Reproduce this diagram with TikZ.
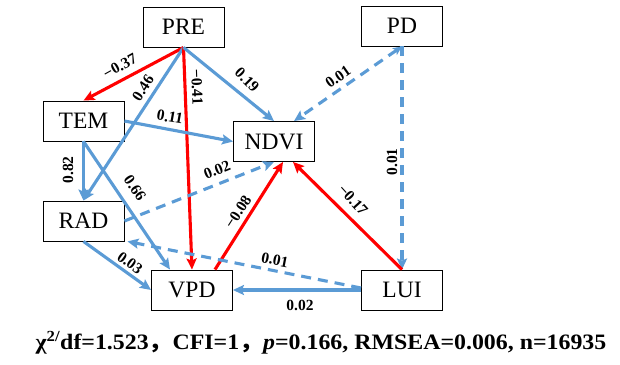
\documentclass[tikz,border=0pt]{standalone}
\usepackage{fontspec}
\setmainfont{Liberation Serif}
\newfontfamily\cjk{Noto Sans CJK SC}
\usetikzlibrary{arrows.meta,calc}
\definecolor{eblue}{RGB}{91,155,213}
\definecolor{ered}{RGB}{255,0,0}
\tikzset{
  varbox/.style={draw=black,line width=0.9pt,minimum width=81pt,minimum height=40pt,inner sep=0pt,font=\fontsize{23.5}{23.5}\selectfont},
  pline/.style={eblue,line width=3.1pt,-{Stealth[length=11pt,width=10pt,inset=2pt]}},
  nline/.style={ered,line width=3.1pt,-{Stealth[length=11pt,width=10pt,inset=2pt]}},
  pdash/.style={pline,dash pattern=on 10pt off 7pt},
  coef/.style={font=\fontsize{15.5}{15.5}\selectfont\bfseries,inner sep=0pt}
}
\begin{document}
\begin{tikzpicture}[x=1pt,y=-1pt]
\useasboundingbox (0,0) rectangle (620,364);
\node[varbox] (PRE) at (183.5,27) {PRE};
\node[varbox] (PD) at (402,26) {PD};
\node[varbox] (TEM) at (83.5,121) {TEM};
\node[varbox] (NDVI) at (274,141.5) {NDVI};
\node[varbox] (RAD) at (83.5,221) {RAD};
\node[varbox] (VPD) at (192,290) {VPD};
\node[varbox] (LUI) at (402,290) {LUI};
% connectors
\draw[nline] (PRE.south) -- (TEM.north);
\draw[pline] (PRE.south) -- (RAD.north);
\draw[pline] (TEM.south) -- (RAD.north);
\draw[pline] (TEM.south) -- ($(VPD.north)+(-22,0)$);
\draw[nline] (PRE.south) -- (VPD.north);
\draw[pline] (PRE.south) -- (NDVI.north);
\draw[pline] (TEM.east) -- (NDVI.west);
\draw[pdash,{Stealth[length=9pt,width=8pt,inset=2pt]}-{Stealth[length=11pt,width=10pt,inset=2pt]}] (PD.south) -- ($(NDVI.north)+(20,0)$);
\draw[pdash] (PD.south) -- (LUI.north);
\draw[pdash] (RAD.east) -- (NDVI.south);
\draw[nline] ($(VPD.north)+(23,0)$) -- ($(NDVI.south)+(9,0)$);
\draw[nline] (LUI.north) -- ($(NDVI.south)+(19,0)$);
\draw[pdash] ($(LUI.west)+(0,-2)$) -- ($(RAD.south east)+(3,0)$);
\draw[pline] (RAD.south) -- (VPD.west);
\draw[pline] (LUI.west) -- (VPD.east);
% coefficients
\node[coef,rotate=29] (c1) at (120,66) {−0.37};
\node[coef,rotate=57] (c2) at (143,88) {0.46};
\node[coef,rotate=-88] (c3) at (197,87) {−0.41};
\node[coef,rotate=-45] (c4) at (247,80) {0.19};
\node[coef,rotate=-10] (c5) at (170,117) {0.11};
\node[coef,rotate=90] (c6) at (68,170) {0.82};
\node[coef,rotate=-56] (c7) at (135,188) {0.66};
\node[coef,rotate=22] (c8) at (217,170) {0.02};
\node[coef,rotate=35] (c9) at (338,77) {0.01};
\node[coef,rotate=90] (c10) at (392,162) {0.01};
\node[coef,rotate=57] (c11) at (238,212) {−0.08};
\node[coef,rotate=-48] (c12) at (353,200) {−0.17};
\node[coef,rotate=-11] (c13) at (275,260) {0.01};
\node[coef,rotate=-36] (c14) at (130,263) {0.03};
\node[coef] (c15) at (300,305) {0.02};
% fit statistics
\node[font=\fontsize{22}{22}\selectfont\bfseries,inner sep=0pt,anchor=base] (fit) at (321,349)
 {\scalebox{1.085}[1]{χ\textsuperscript{2/}df=1.523{\cjk ，}CFI=1{\cjk ，}\textit{p}=0.166, RMSEA=0.006, n=16935}};
\end{tikzpicture}
\end{document}
